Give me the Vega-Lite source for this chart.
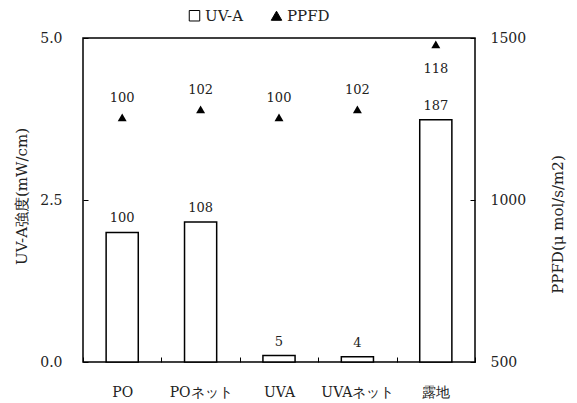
{
  "$schema": "https://vega.github.io/schema/vega-lite/v6.json",
  "width": 392,
  "height": 324,
  "autosize": "none",
  "padding": {"left": 83, "top": 38, "right": 102, "bottom": 41},
  "data": {"values": [
    {"cat": "PO", "uva": 2.0, "uva_pct": 100, "ppfd": 1255, "ppfd_pct": 100},
    {"cat": "POネット", "uva": 2.16, "uva_pct": 108, "ppfd": 1280, "ppfd_pct": 102},
    {"cat": "UVA", "uva": 0.1, "uva_pct": 5, "ppfd": 1255, "ppfd_pct": 100},
    {"cat": "UVAネット", "uva": 0.08, "uva_pct": 4, "ppfd": 1280, "ppfd_pct": 102},
    {"cat": "露地", "uva": 3.74, "uva_pct": 187, "ppfd": 1480, "ppfd_pct": 118}
  ]},
  "config": {
    "font": "DejaVu Serif",
    "view": {"stroke": "black", "strokeWidth": 1.5},
    "text": {"font": "DejaVu Serif"},
    "axis": {
      "labelFont": "DejaVu Serif",
      "titleFont": "DejaVu Serif",
      "labelFontSize": 14,
      "titleFontSize": 15,
      "titleFontWeight": "normal",
      "labelColor": "#222",
      "titleColor": "#222",
      "domain": false,
      "grid": false,
      "tickColor": "black",
      "tickSize": -5,
      "tickWidth": 1
    },
    "legend": {
      "labelFont": "DejaVu Serif",
      "labelFontSize": 15,
      "labelColor": "#222"
    }
  },
  "encoding": {
    "x": {
      "field": "cat",
      "type": "nominal",
      "sort": null,
      "scale": {"paddingInner": 0, "paddingOuter": 0},
      "axis": {"title": null, "labelAngle": 0, "tickBand": "extent", "labelPadding": 28, "labelFontSize": 14}
    }
  },
  "layer": [
    {
      "encoding": {
        "y": {
          "field": "uva",
          "type": "quantitative",
          "scale": {"domain": [0, 5], "nice": false},
          "axis": {
            "orient": "left",
            "title": "UV-A強度(mW/cm)",
            "values": [0, 2.5, 5],
            "format": ".1f",
            "labelPadding": 26,
            "titleX": -62,
            "titleY": 158,
            "titleAlign": "center",
            "titleBaseline": "middle",
            "titleAngle": -90
          }
        }
      },
      "layer": [
        {
          "mark": {"type": "bar", "stroke": "black", "strokeWidth": 1.5, "width": {"band": 0.41}},
          "encoding": {
            "color": {
              "datum": "UV-A",
              "type": "nominal",
              "scale": {"domain": ["UV-A", "PPFD"], "range": ["white", "black"]},
              "legend": {
                "title": null,
                "orient": "none",
                "legendX": 104,
                "legendY": -30,
                "direction": "horizontal",
                "symbolStrokeColor": "black",
                "symbolStrokeWidth": 1,
                "symbolSize": 110,
                "columnPadding": 26,
                "labelOffset": 3
              }
            }
          }
        },
        {
          "mark": {"type": "text", "baseline": "bottom", "dy": -7, "fontSize": 13, "color": "#222"},
          "encoding": {"text": {"field": "uva_pct", "type": "quantitative"}}
        }
      ]
    },
    {
      "encoding": {
        "y": {
          "field": "ppfd",
          "type": "quantitative",
          "scale": {"domain": [500, 1500], "nice": false},
          "axis": {
            "orient": "right",
            "title": "PPFD(μ mol/s/m2)",
            "values": [500, 1000, 1500],
            "format": "d",
            "labelPadding": 20,
            "titleX": 82,
            "titleY": 186,
            "titleAlign": "center",
            "titleBaseline": "middle",
            "titleAngle": -90
          }
        }
      },
      "layer": [
        {
          "mark": {"type": "point", "filled": true, "size": 80, "opacity": 1},
          "encoding": {
            "color": {"datum": "PPFD", "type": "nominal"},
            "shape": {
              "datum": "PPFD",
              "type": "nominal",
              "scale": {"domain": ["UV-A", "PPFD"], "range": ["square", "triangle-up"]},
              "legend": {
                "title": null,
                "orient": "none",
                "legendX": 104,
                "legendY": -30,
                "direction": "horizontal",
                "symbolStrokeColor": "black",
                "symbolStrokeWidth": 1,
                "symbolSize": 110,
                "columnPadding": 26,
                "labelOffset": 3
              }
            }
          }
        },
        {
          "transform": [{"filter": "datum.cat != '露地'"}],
          "mark": {"type": "text", "baseline": "bottom", "dy": -12, "fontSize": 13, "color": "#222"},
          "encoding": {"text": {"field": "ppfd_pct", "type": "quantitative"}}
        },
        {
          "transform": [{"filter": "datum.cat == '露地'"}],
          "mark": {"type": "text", "baseline": "top", "dy": 19, "fontSize": 13, "color": "#222"},
          "encoding": {"text": {"field": "ppfd_pct", "type": "quantitative"}}
        }
      ]
    }
  ],
  "resolve": {"scale": {"y": "independent"}}
}
